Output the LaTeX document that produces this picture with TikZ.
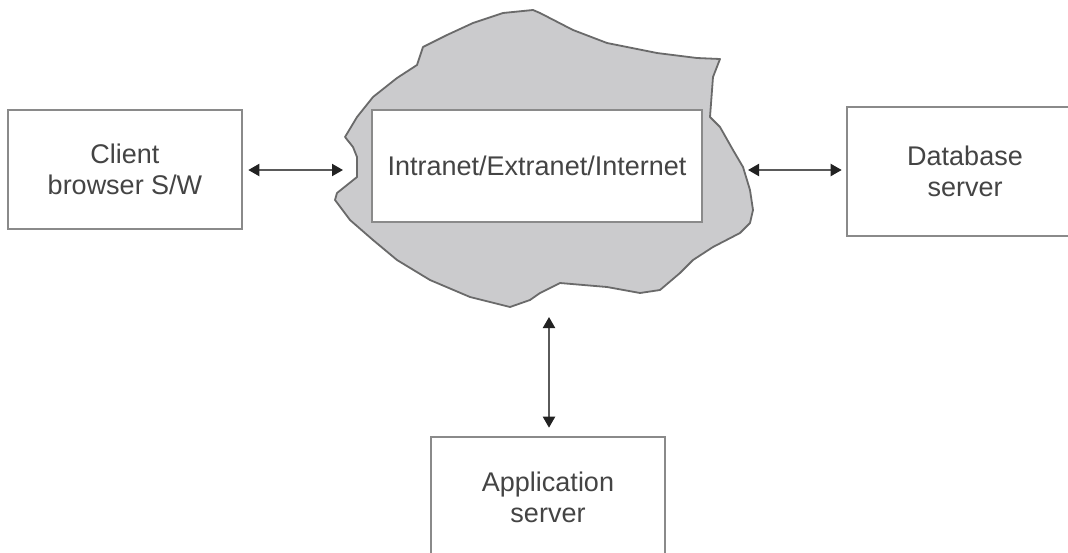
\documentclass[tikz,border=0pt]{standalone}
\usepackage{fontspec}
\setmainfont{Liberation Sans}
\usetikzlibrary{arrows.meta}
\definecolor{boxline}{HTML}{8A8A8A}
\definecolor{cloudfill}{HTML}{CBCBCD}
\definecolor{cloudline}{HTML}{6A6A6A}
\definecolor{txt}{HTML}{444444}
\definecolor{arr}{HTML}{5A5A5A}
\definecolor{tip}{HTML}{222222}
\tikzset{
  box/.style={draw=boxline, line width=2.6pt, fill=white, text=txt, align=center,
    font=\fontsize{27}{31}\selectfont, inner sep=0pt},
  link/.style={draw=arr, line width=2pt,
    arrows={Triangle[length=11pt,width=12pt,color=tip,fill=tip]-Triangle[length=11pt,width=12pt,color=tip,fill=tip]}},
}
\begin{document}
\begin{tikzpicture}[x=1pt,y=-1pt]
\useasboundingbox (0,0) rectangle (1068,552);
\clip (0,0) rectangle (1068,552);
\fill[white] (0,0) rectangle (1068,552);
% cloud
\draw[fill=cloudfill, draw=cloudline, line width=1.8pt, line join=round]
  (533,10) -- (503,13) -- (473,23) -- (447,35) -- (423,47) -- (417,65) -- (397,78)
  -- (373,97) -- (357,117) -- (345,137) -- (353,147) -- (357,157) -- (357,177)
  -- (337,193) -- (335,200) -- (350,220) -- (373,240) -- (397,260) -- (430,280)
  -- (470,297) -- (510,307) -- (530,300) -- (540,293) -- (560,283) -- (607,287)
  -- (640,293) -- (660,290) -- (680,273) -- (693,260) -- (713,247) -- (740,233)
  -- (750,223) -- (753,210) -- (750,190) -- (743,167) -- (733,150) -- (720,127)
  -- (710,117) -- (713,77) -- (720,59) -- (697,58) -- (657,53) -- (607,43)
  -- (573,30) -- (540,13) -- cycle;
\node[box, minimum width=330pt, minimum height=112pt] (net) at (537,166) {Intranet/Extranet/Internet};
\node[box, minimum width=234pt, minimum height=119pt] (client) at (125,169.5) {Client\\browser S/W};
\node[box, minimum width=236pt, minimum height=129pt] (db) at (965,171.5) {Database\\server};
\node[box, minimum width=234pt, minimum height=121pt] (app) at (548,497.5) {Application\\server};
\coordinate (cl) at (343,170);
\coordinate (cr) at (748,170);
\coordinate (cb) at (549,317);
\draw[link, shorten <=5pt] (client.east |- cl) -- (cl);
\draw[link, shorten >=4pt] (cr) -- (cr -| db.west);
\draw[link, shorten >=8pt] (cb) -- (cb |- app.north);
\end{tikzpicture}
\end{document}
